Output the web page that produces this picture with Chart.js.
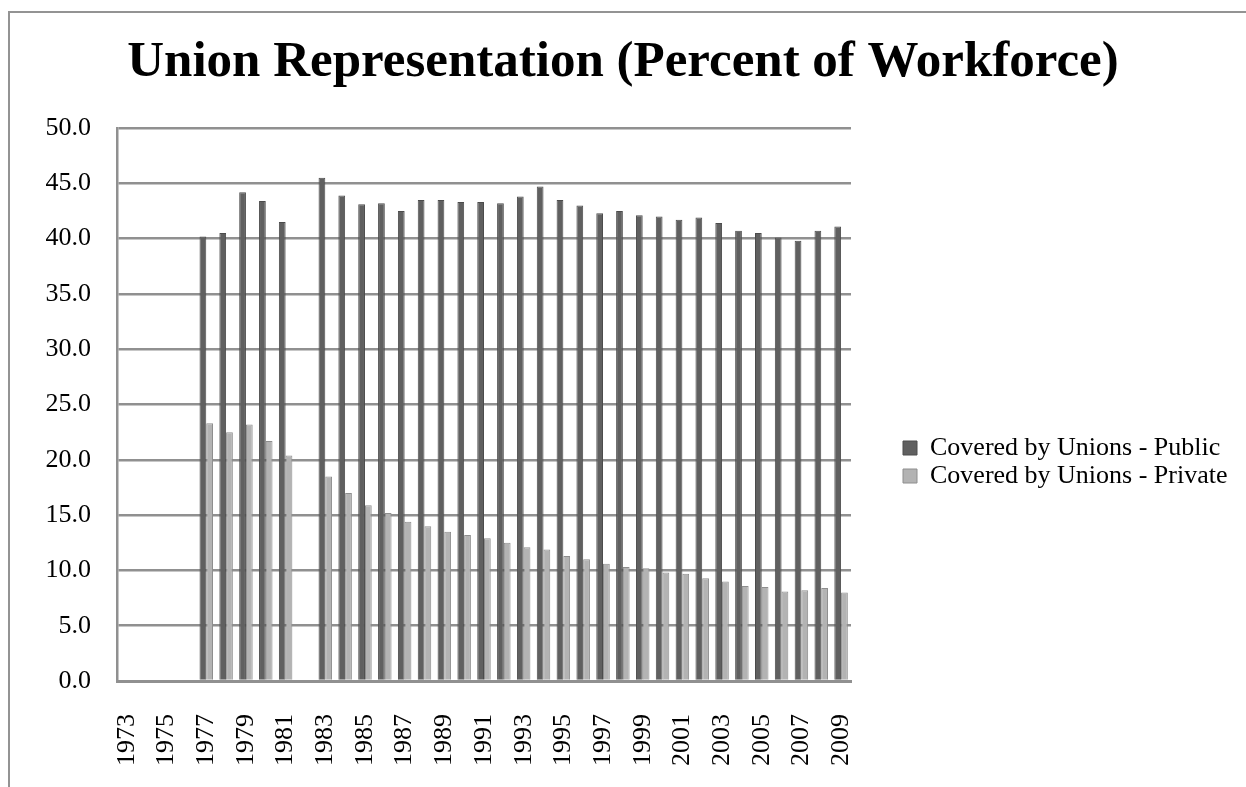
<!DOCTYPE html>
<html>
<head>
<meta charset="utf-8">
<script src="https://cdn.jsdelivr.net/npm/chart.js@4"></script>
<style>
  body { margin: 0; background: #fff; }
  .frame {
    position: absolute; left: 8px; top: 11px;
    width: 1400px; height: 900px;
    border-left: 2px solid #939393; border-top: 2px solid #939393;
  }
  canvas { position: absolute; left: 0; top: 0; }
</style>
</head>
<body>
<div class="frame"></div>
<canvas id="myChart" width="1246" height="787"></canvas>
<script>
const years = ["1973","1974","1975","1976","1977","1978","1979","1980","1981","1982",
  "1983","1984","1985","1986","1987","1988","1989","1990","1991","1992","1993","1994",
  "1995","1996","1997","1998","1999","2000","2001","2002","2003","2004","2005","2006",
  "2007","2008","2009"];

const publicCovered = [0, 0, 0, 0, 40.2, 40.5, 44.2, 43.4, 41.5, 0,
  45.5, 43.9, 43.1, 43.2, 42.5, 43.5, 43.5, 43.3, 43.3, 43.2, 43.8, 44.7,
  43.5, 43.0, 42.3, 42.5, 42.1, 42.0, 41.7, 41.9, 41.4, 40.7, 40.5, 40.1,
  39.8, 40.7, 41.1];

const privateCovered = [0, 0, 0, 0, 23.3, 22.5, 23.2, 21.7, 20.4, 0,
  18.5, 17.0, 15.9, 15.2, 14.4, 14.0, 13.5, 13.2, 12.9, 12.5, 12.1, 11.9,
  11.3, 11.0, 10.6, 10.3, 10.2, 9.8, 9.7, 9.3, 9.0, 8.6, 8.5, 8.1,
  8.2, 8.4, 8.0];

const seriesNames = ["Covered by Unions - Public", "Covered by Unions - Private"];
const yTicks = { min: 0, max: 50, step: 5 };

const serif = "'Liberation Serif', 'Times New Roman', serif";
const gridGray = "#909090";
const legendWidth = 345;

// chart.js caps a side legend at a quarter of the canvas, too narrow for these labels
const legendFit = {
  id: "legendFit",
  beforeUpdate(chart) {
    const lg = chart.legend;
    if (lg && !lg._wideFit) {
      const fit = lg.fit;
      lg.fit = function () {
        this.maxWidth = legendWidth;
        fit.call(this);
        this.width = legendWidth;
      };
      lg._wideFit = true;
    }
  }
};

const data = {
  labels: years,
  datasets: [{
    label: seriesNames[0],
    data: publicCovered,
    backgroundColor: "#606060",
    borderColor: "#4c4c4c",
    borderWidth: 1
  }, {
    label: seriesNames[1],
    data: privateCovered,
    backgroundColor: "#b3b3b3",
    borderColor: "#8e8e8e",
    borderWidth: 1
  }]
};

const config = {
  type: "bar",
  data: data,
  plugins: [legendFit],
  options: {
    responsive: false,
    animation: false,
    categoryPercentage: 0.68,
    barPercentage: 1.0,
    layout: { padding: 0 },
    plugins: {
      tooltip: { enabled: false },
      title: {
        display: true,
        text: "Union Representation (Percent of Workforce)",
        color: "#000",
        font: { family: serif, size: 51, weight: "bold", lineHeight: 1.2 },
        padding: { top: 32, bottom: 34.8 }
      },
      legend: {
        position: "right",
        fullSize: false,
        align: "center",
        // empty title just pushes the two items down to where they sit in the original
        title: { display: true, text: "", font: { size: 10, lineHeight: 1.2 }, padding: { top: 103, bottom: 0 } },
        labels: {
          color: "#000",
          font: { family: serif, size: 26 },
          boxWidth: 14,
          boxHeight: 14,
          padding: 2
        }
      }
    },
    scales: {
      x: {
        grid: { display: false },
        border: { display: true, color: gridGray, width: 3 },
        ticks: {
          color: "#000",
          font: { family: serif, size: 26 },
          minRotation: 90,
          maxRotation: 90,
          autoSkip: false,
          padding: 25,
          callback: function (v, i) { return i % 2 === 0 ? years[i] : ""; }
        },
        afterFit: function (s) { s.height = 106; }
      },
      y: {
        min: yTicks.min,
        max: yTicks.max,
        grid: { color: gridGray, lineWidth: 2.5, drawTicks: false },
        border: { display: true, color: gridGray, width: 2.5 },
        ticks: {
          stepSize: yTicks.step,
          color: "#000",
          font: { family: serif, size: 26 },
          padding: 26,
          callback: function (v) { return v.toFixed(1); }
        },
        afterFit: function (s) { s.width = 117; }
      },
      // blank axis, only keeps a gap between the plot and the legend
      gap: {
        type: "linear",
        position: "right",
        grid: { display: false },
        border: { display: false },
        ticks: { display: false },
        afterFit: function (s) { s.width = 50; }
      }
    }
  }
};

const myChart = new Chart(document.getElementById("myChart"), config);
</script>
</body>
</html>
